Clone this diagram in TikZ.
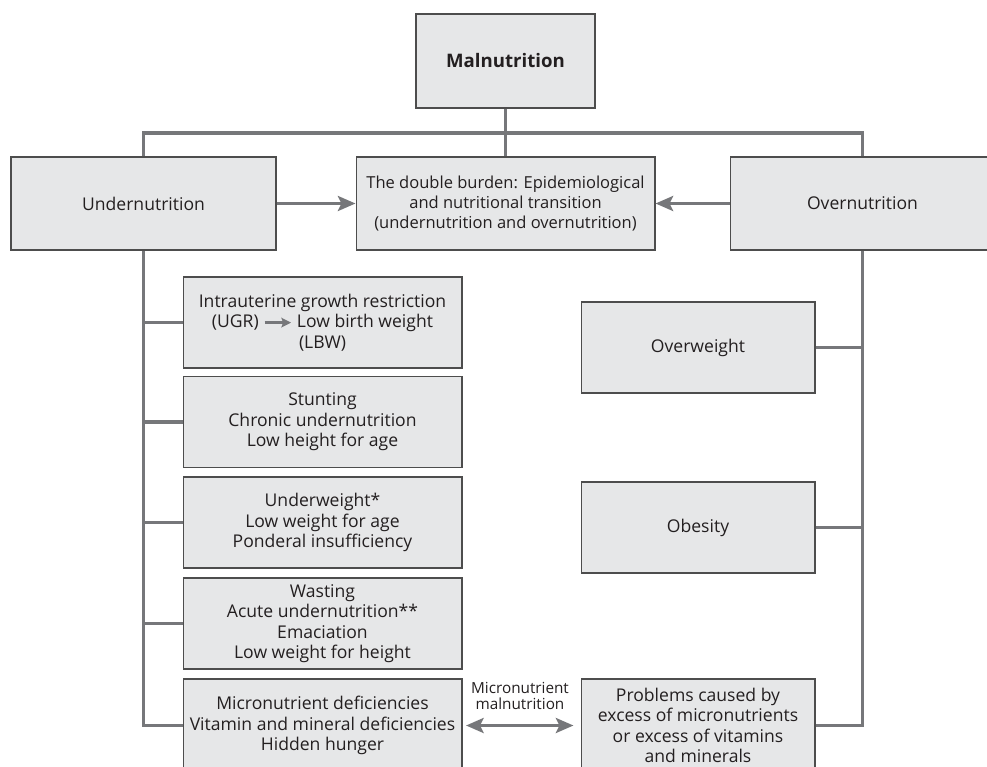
\documentclass[tikz,border=0pt]{standalone}
\usepackage{fontspec}
\setmainfont{Open Sans}
\usetikzlibrary{arrows.meta}
\definecolor{boxfill}{HTML}{E6E7E8}
\definecolor{boxline}{HTML}{4D4D4D}
\definecolor{linkgray}{HTML}{76777A}
\definecolor{inkblack}{HTML}{231F20}
\newcommand{\leadsarrow}{\tikz[baseline=-0.55ex]\draw[draw=linkgray, line width=1.5pt, -{Stealth[length=5.5pt, width=5.5pt, inset=1pt]}] (0pt,0pt) -- (15pt,0pt);}
\begin{document}
\begin{tikzpicture}[x=0.02cm, y=-0.02cm,
    every node/.style = {align=center, text=inkblack, font=\fontsize{10}{11.6}\selectfont},
    box/.style = {shape=rectangle, draw=boxline, fill=boxfill, line width=0.6pt, inner sep=0pt},
    subbox/.style = {box, minimum width=5.58cm, minimum height=1.82cm},
    rightbox/.style = {box, minimum width=4.68cm, minimum height=1.82cm},
    link/.style = {draw=linkgray, line width=2.2pt},
    pointer/.style = {link, -{Stealth[length=10pt, width=8.5pt, inset=2pt]}},
    twoway/.style = {link, {Stealth[length=10pt, width=8.5pt, inset=2pt]}-{Stealth[length=10pt, width=8.5pt, inset=2pt]}}]
  \useasboundingbox (0,0) rectangle (987,767);

  \node (mal) at (505.5, 61) [box, minimum width=3.58cm, minimum height=1.88cm, font=\bfseries\fontsize{10.6}{12}\selectfont] {Malnutrition};
  \coordinate (bar) at (505.5, 133);

  \node (under) at (143.5, 203.5) [box, minimum width=5.3cm, minimum height=1.86cm] {Undernutrition};
  \node (dbl) at (505.5, 203.5) [box, minimum width=5.98cm, minimum height=1.86cm, font=\fontsize{9.4}{11.2}\selectfont] {The double burden: Epidemiological\\and nutritional transition\\(undernutrition and overnutrition)};
  \node (over) at (862.5, 203.5) [box, minimum width=5.3cm, minimum height=1.86cm] {Overnutrition};

  \node (iugr) at (322.5, 322.5) [subbox] {Intrauterine growth restriction\\(UGR) \leadsarrow\ Low birth weight\\(LBW)};
  \node (stunt) at (322.5, 422) [subbox] {Stunting\\Chronic undernutrition\\Low height for age};
  \node (uweight) at (322.5, 522.5) [subbox] {Underweight*\\Low weight for age\\Ponderal insufficiency};
  \node (waste) at (322.5, 623.5) [subbox] {Wasting\\Acute undernutrition**\\Emaciation\\Low weight for height};
  \node (micro) at (322.5, 725.5) [subbox, minimum height=1.86cm] {Micronutrient deficiencies\\Vitamin and mineral deficiencies\\Hidden hunger};

  \node (oweight) at (698, 347.5) [rightbox] {Overweight};
  \node (obese) at (698, 527.5) [rightbox] {Obesity};
  \node (excess) at (698, 725.5) [rightbox, minimum height=1.86cm] {Problems caused by\\excess of micronutrients\\or excess of vitamins\\and minerals};

  \node (mmlabel) at (520, 696) [font=\fontsize{8.7}{9.6}\selectfont] {Micronutrient\\malnutrition};

  \draw [link] (mal.south) -- (dbl.north);
  \draw [link] (under.north) |- (bar) -| (over.north);

  \draw [pointer] (under.east) -- (dbl.west);
  \draw [pointer] (over.west) -- (dbl.east);

  \draw [link] (under.south) |- (micro.west);
  \draw [link] (under.south |- iugr.west) -- (iugr.west);
  \draw [link] (under.south |- stunt.west) -- (stunt.west);
  \draw [link] (under.south |- uweight.west) -- (uweight.west);
  \draw [link] (under.south |- waste.west) -- (waste.west);

  \draw [link] (over.south) |- (excess.east);
  \draw [link] (over.south |- oweight.east) -- (oweight.east);
  \draw [link] (over.south |- obese.east) -- (obese.east);

  \draw [twoway] ([xshift=2pt]micro.east) -- ([xshift=-4pt]excess.west);
\end{tikzpicture}
\end{document}
